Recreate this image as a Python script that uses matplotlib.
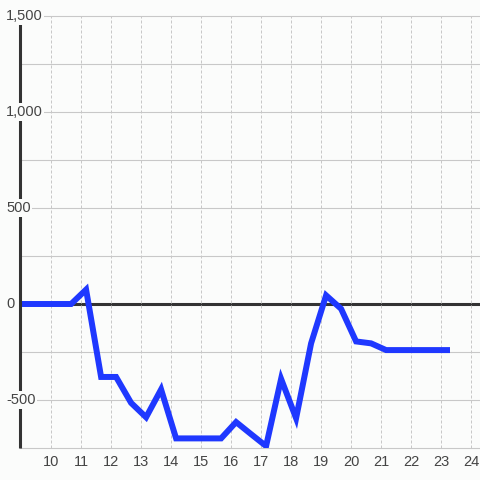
import numpy as np
import matplotlib
matplotlib.use('Agg')
import matplotlib.pyplot as plt
from matplotlib.ticker import NullLocator

plt.rcParams['font.family'] = ['Liberation Sans', 'DejaVu Sans']

# data
hours = [8.67, 9.17, 9.67, 10.17, 10.67, 11.17, 11.67, 12.17, 12.67, 13.17,
         13.67, 14.17, 14.67, 15.17, 15.67, 16.17, 16.67, 17.17, 17.67, 18.17,
         18.67, 19.17, 19.67, 20.17, 20.67, 21.17, 21.67, 22.17, 22.67, 23.3]
values = [0, 0, 0, 0, 0, 75, -380, -380, -515, -590,
          -445, -700, -700, -700, -700, -615, -678, -740, -390, -595,
          -205, 45, -25, -195, -205, -240, -240, -240, -240, -240]

x_ticks = list(range(10, 25))
y_ticks = [1500, 1000, 500, 0, -500]
y_labels = ['1,500', '1,000', '500', '0', '-500']
y_minor = [1250, 750, 250, -250, -750]

bg = '#fbfcfb'
W, H = 480, 480
fig = plt.figure(figsize=(4.8, 4.8), dpi=100, facecolor=bg)
ax = fig.add_axes([20 / W, 32 / H, 460 / W, 432 / H], facecolor=bg)

ax.set_xlim(8.967, 24.3)
ax.set_ylim(-750, 1500)

for s in ax.spines.values():
    s.set_visible(False)

# grid
ax.set_xticks(x_ticks)
ax.xaxis.set_minor_locator(NullLocator())
ax.set_yticks([])
ax.grid(axis='x', color='#c8c8c8', lw=0.72, linestyle=(0, (3, 2)), zorder=0)
for v in y_ticks + y_minor:
    if v == 0:
        continue
    ax.axhline(v, color='#c8c8c8', lw=0.8, zorder=0.5, clip_on=False)
ax.axhline(0, color='#333333', lw=2.2, zorder=1)

ax.tick_params(axis='x', length=0, pad=5, labelsize=10.5, labelcolor='#444444')

# left axis line
ax.plot([0, 0], [0, 1], transform=ax.transAxes, color='#333333', lw=2.2,
        clip_on=False, zorder=3, solid_capstyle='butt')

# y labels sit over the axis line with a background box
for v, lab in zip(y_ticks, y_labels):
    ax.text(-14 / 460, v, lab, transform=ax.get_yaxis_transform(),
            ha='left', va='center', fontsize=10.5, color='#444444', zorder=4,
            clip_on=False,
            bbox=dict(facecolor=bg, edgecolor='none', pad=1.2))

ax.plot(hours, values, color='#1f38ff', lw=4.3, zorder=2,
        solid_capstyle='butt', solid_joinstyle='miter')

fig.savefig('out.png', dpi=100, facecolor=bg)
